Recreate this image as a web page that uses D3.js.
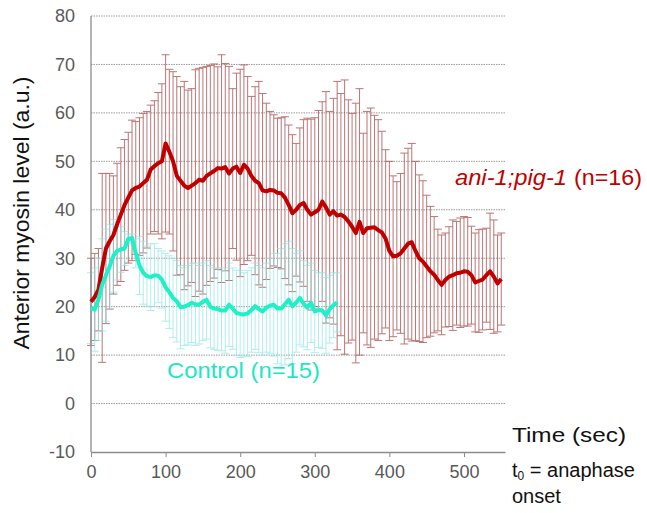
<!DOCTYPE html>
<html>
<head>
<meta charset="utf-8">
<script src="https://cdn.jsdelivr.net/npm/d3@7"></script>
<style>
  body { margin: 0; background: #fff; }
  svg { font-family: "Liberation Sans", Arial, sans-serif; }
</style>
</head>
<body>
<svg id="chart" width="647" height="513"></svg>
<script>
// ---- data (time step 5 s) ----
const timeStep = 5;
const mutantMean = [21,22,23.5,28,32,33.5,34.8,37,39,41,42.5,44,44.5,44.8,45.5,46.2,48.3,49,49.6,50,
  53.7,52,50,47,46,45,44.5,45,45.5,46.2,46,47,47.5,48,48.6,48.5,48.8,47.5,48.5,48.9,
  47.6,49.3,48.5,47,46,45.5,44,43.8,44.1,44,43.5,43.4,42.5,41,39.3,40,41,41.4,40,39,
  39.5,40,41.7,40.5,39,39.7,38.8,39,38.5,37.6,36.5,35.2,37.5,35.2,36.2,36.3,36.4,35.8,35.3,34,
  31.5,30.4,30.5,31,32,33,33.3,31.5,30,29.3,28.3,27.3,26.6,25.5,24.5,25.5,26.2,26.5,26.9,27,
  27.3,27.2,26.5,25,25.3,25.6,26.5,27.3,26.2,24.8,25.7];
const mutantUpper = [30,31,32,47.5,47.5,47.5,47,49.6,52.8,54.5,56,58.5,58.2,59,59.9,60.3,61.6,62.5,64.2,66,
  72,69,68.5,67.5,65.4,66.5,64.7,65,68.9,69.2,69.4,69.6,69.8,70.1,69.5,72,70.2,69.6,65,68.2,
  69,69.9,67.5,63.4,65.4,66.5,64,62,60.3,59.6,58.9,59,59.2,57.5,55.5,53.7,56.9,58.6,58.9,58.7,
  59,60.5,62.3,64.4,60.3,63,66.5,64,66.8,62.7,59.9,62,65,55.8,60.3,61,59.5,58.6,56.2,52.4,
  50,47,45.8,47.5,51.7,52.7,53.7,50,47.2,46,43,40.7,38.6,36,34.8,35.2,36.5,37.9,37.6,38.3,
  38.6,38.4,36.6,35.2,35.9,36,36.2,39.3,37.9,34.8,35.2];
const controlMean = [19.7,19.4,21.5,24.5,26.5,28.3,30.5,31.5,31.8,32,34,34.2,31,28.5,27,26.3,26.1,26.5,26.4,25.6,
  24,23,21.8,21.1,19.9,20,20.3,20.8,20.5,20.4,21,21.4,20,19.6,19.5,19.2,19.2,20.4,19.6,18.7,
  18.5,18.4,18.6,19.3,20.1,19.5,19,19.8,20.2,20.4,19.6,19.6,20.5,21.4,20.1,20.8,21.8,20.6,19.8,20.8,
  19,19.3,19.2,18.2,19.5,20.3,20.9];
const controlUpper = [27,28,30,34,36,37,38,37.5,36.5,35.5,35,35,34,34.5,33.5,32.5,33,33,32,31.5,
  31,30.5,30,29.5,28.5,28,28.5,29,29,28.5,29,29.5,28.5,28,28,27.5,28,29,28,27.5,
  27.5,27,27.5,28,29,28.5,28,29,30,31,31,32,33,33.5,32,31,31.5,29.5,28.5,29,
  27.5,27,27,26,26.5,27,27];
const yTicks = [-10,0,10,20,30,40,50,60,70,80];
const xTicks = [0,100,200,300,400,500];
const mutantLabel = "ani-1;pig-1";
const mutantN = "(n=16)";
const controlLabel = "Control (n=15)";

// ---- build series ----
function series(mean, upper) {
  return mean.map((m, i) => ({ t: i * timeStep, m: m, sd: upper[i] - m }));
}
const mutant = series(mutantMean, mutantUpper);
const control = series(controlMean, controlUpper);

const svg = d3.select("#chart");
const pLeft = 91, pRight = 505, pTop = 16, pBottom = 452;
const x = d3.scaleLinear().domain([0, 555]).range([pLeft, pRight]);
const y = d3.scaleLinear().domain([-10, 80]).range([pBottom, pTop]);

// grid
svg.append("g").selectAll("line").data(yTicks.filter(d => d > -10)).join("line")
  .attr("x1", pLeft).attr("x2", pRight)
  .attr("y1", d => y(d)).attr("y2", d => y(d))
  .attr("stroke", "#9a9a9a").attr("stroke-width", 1)
  .attr("stroke-dasharray", "1.5,1");

// error bars
function errorBars(data, color, opacity) {
  const g = svg.append("g").attr("stroke", color).attr("stroke-width", 1).attr("opacity", opacity);
  g.selectAll("line.v").data(data).join("line").attr("class", "v")
    .attr("x1", d => x(d.t)).attr("x2", d => x(d.t))
    .attr("y1", d => y(d.m - d.sd)).attr("y2", d => y(d.m + d.sd));
  g.selectAll("line.u").data(data).join("line").attr("class", "u")
    .attr("x1", d => x(d.t) - 4).attr("x2", d => x(d.t) + 4)
    .attr("y1", d => y(d.m + d.sd)).attr("y2", d => y(d.m + d.sd));
  g.selectAll("line.l").data(data).join("line").attr("class", "l")
    .attr("x1", d => x(d.t) - 4).attr("x2", d => x(d.t) + 4)
    .attr("y1", d => y(d.m - d.sd)).attr("y2", d => y(d.m - d.sd));
}
errorBars(mutant, "#a84848", 0.75);
errorBars(control, "#8fe6e6", 0.7);

// axes
svg.append("line").attr("x1", pLeft).attr("x2", pLeft).attr("y1", pTop).attr("y2", pBottom)
  .attr("stroke", "#8c8c8c").attr("stroke-width", 1.3);
const xAxis = svg.append("g").attr("transform", `translate(0,${pBottom})`)
  .call(d3.axisBottom(x).tickValues(xTicks).tickSize(5).tickSizeOuter(0).tickPadding(8));
xAxis.select(".domain").attr("stroke", "#8c8c8c").attr("stroke-width", 1.3);
xAxis.selectAll(".tick line").attr("stroke", "#8c8c8c");
xAxis.selectAll("text").attr("font-size", 18).attr("fill", "#595959")
  .attr("font-family", "'Liberation Sans', Arial, sans-serif");

svg.append("g").selectAll("text").data(yTicks).join("text")
  .attr("x", 75).attr("y", d => y(d)).attr("dy", "0.35em")
  .attr("text-anchor", "end").attr("font-size", 18).attr("fill", "#595959")
  .text(d => d);

// lines
const line = d3.line().x(d => x(d.t)).y(d => y(d.m)).curve(d3.curveLinear);
svg.append("path").datum(mutant).attr("d", line)
  .attr("fill", "none").attr("stroke", "#c00000").attr("stroke-width", 4)
  .attr("stroke-linejoin", "round");
svg.append("path").datum(control).attr("d", line)
  .attr("fill", "none").attr("stroke", "#1ff0c8").attr("stroke-width", 4)
  .attr("stroke-linejoin", "round");

// labels
svg.append("text").attr("transform", "translate(29,213) rotate(-90)")
  .attr("text-anchor", "middle").attr("font-size", 22).attr("fill", "#111")
  .attr("textLength", 273).attr("lengthAdjust", "spacingAndGlyphs")
  .text("Anterior myosin level (a.u.)");

svg.append("text").attr("x", 455).attr("y", 185).attr("font-size", 22).attr("fill", "#c00000")
  .attr("font-style", "italic").attr("textLength", 112).attr("lengthAdjust", "spacingAndGlyphs")
  .text(mutantLabel);
svg.append("text").attr("x", 574).attr("y", 185).attr("font-size", 22).attr("fill", "#c00000")
  .attr("textLength", 68).attr("lengthAdjust", "spacingAndGlyphs")
  .text(mutantN);

svg.append("text").attr("x", 167).attr("y", 378).attr("font-size", 22).attr("fill", "#1ee6c4")
  .attr("textLength", 153).attr("lengthAdjust", "spacingAndGlyphs")
  .text(controlLabel);

svg.append("text").attr("x", 512).attr("y", 442).attr("font-size", 21).attr("fill", "#111")
  .attr("textLength", 114).attr("lengthAdjust", "spacingAndGlyphs")
  .text("Time (sec)");
const t0 = svg.append("text").attr("x", 512).attr("y", 477).attr("font-size", 20).attr("fill", "#111");
t0.append("tspan").text("t");
t0.append("tspan").attr("font-size", 12).attr("dy", 3).text("0");
t0.append("tspan").attr("dy", -3).text(" = anaphase");
svg.append("text").attr("x", 512).attr("y", 503).attr("font-size", 20).attr("fill", "#111")
  .text("onset");
</script>
</body>
</html>
